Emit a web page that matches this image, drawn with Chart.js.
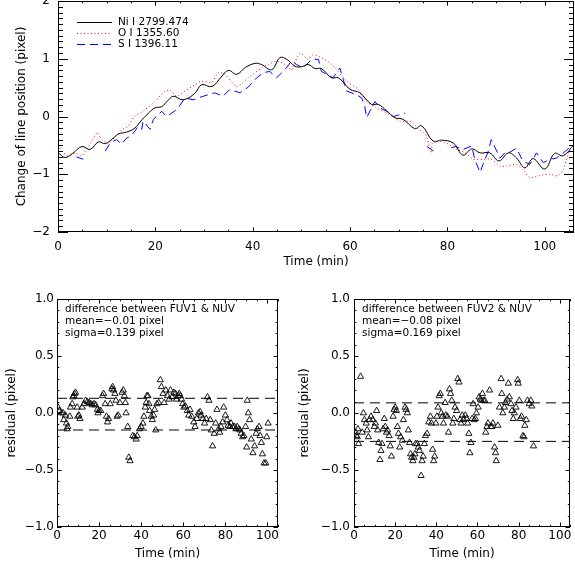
<!DOCTYPE html>
<html>
<head>
<meta charset="utf-8">
<script src="https://cdn.jsdelivr.net/npm/chart.js@4/dist/chart.umd.min.js"></script>
<style>
  html, body { margin: 0; padding: 0; background: #fff; }
  body { width: 575px; height: 568px; position: relative; overflow: hidden; }
  .panel { position: absolute; }
</style>
</head>
<body>
<div class="panel" style="left:0;top:0;width:575px;height:275px"><canvas id="topChart"></canvas></div>
<div class="panel" style="left:0;top:290px;width:290px;height:278px"><canvas id="leftChart"></canvas></div>
<div class="panel" style="left:290px;top:290px;width:285px;height:278px"><canvas id="rightChart"></canvas></div>
<script>
// ── Data ────────────────────────────────────────────────────────────────────
const TOP_X_TICKS = [0, 20, 40, 60, 80, 100];
const TOP_Y_TICKS = [-2, -1, 0, 1, 2];
const RES_X_TICKS = [0, 20, 40, 60, 80, 100];
const RES_Y_TICKS = [-1, -0.5, 0, 0.5, 1];

// Ni I 2799.474 (NUV)
const niTime = [0, 1.4, 3, 4.9, 6.6, 8.3, 9.7, 11.4, 12.5, 14.1, 15.8, 17, 18.5, 19.9, 21.3, 22.5, 23.7, 25.7, 28.1, 29.5,
  31.6, 33.5, 35, 36.7, 38.5, 40.5, 41.8, 43.9, 45.6, 47, 48.7, 50, 51.4, 52.8, 54.1, 56.2, 57.6, 60, 62, 64.4,
  65.8, 67.5, 69.2, 70.9, 73.3, 74.7, 77.1, 78.8, 81.2, 83.2, 85, 86.7, 88.7, 90.6, 92.5, 94.2, 95.9, 97.6, 100, 102,
  103.8, 106];
const niPos = [-0.62, -0.71, -0.64, -0.52, -0.57, -0.44, -0.47, -0.37, -0.30, -0.27, -0.20, -0.08, 0.05, 0.15, 0.17, 0.27, 0.35, 0.29, 0.40, 0.55,
  0.52, 0.68, 0.80, 0.73, 0.85, 0.92, 0.90, 0.81, 1.02, 0.99, 0.87, 0.86, 0.90, 0.83, 0.83, 0.67, 0.67, 0.47, 0.41, 0.21,
  0.21, 0.10, -0.02, -0.05, -0.21, -0.16, -0.43, -0.41, -0.46, -0.67, -0.56, -0.63, -0.63, -0.77, -0.63, -0.72, -0.89, -0.73, -0.91, -0.64,
  -0.68, -0.48];

// O I 1355.60 (FUV1)
const oTime = [0, 1, 2.1, 3.5, 4.9, 5.9, 6.9, 8.1, 9, 10.3, 12, 13.1, 14.4, 15.5, 17.9, 19.9, 22, 23, 24.4, 26.1,
  28.1, 29.5, 31.6, 32.9, 34.3, 36.7, 39.1, 41.8, 43.2, 44.9, 47.3, 47.9, 49.7, 51.4, 52.4, 54.8, 56.9, 59.3, 61.7, 63.4,
  65.4, 68.2, 70.2, 72.3, 73, 74, 75.5, 76.7, 77, 79.5, 81.9, 83.5, 85.3, 87.3, 89, 90.8, 92.2, 94.2, 95.5, 96.9,
  99, 101, 102.7, 103.8, 104.4, 105.1];
const oPos = [-0.50, -0.62, -0.69, -0.63, -0.68, -0.56, -0.43, -0.28, -0.40, -0.46, -0.33, -0.23, -0.17, -0.02, 0.12, 0.26, 0.44, 0.46, 0.35, 0.44,
  0.55, 0.61, 0.59, 0.76, 0.73, 0.52, 0.67, 0.84, 0.90, 0.96, 0.87, 0.80, 1.10, 0.99, 1.07, 0.99, 0.84, 0.61, 0.47, 0.26,
  0.15, 0.03, -0.08, -0.08, -0.11, -0.22, -0.30, -0.63, -0.43, -0.45, -0.57, -0.62, -0.74, -0.74, -0.74, -0.86, -0.86, -0.83, -0.92, -1.06,
  -1.02, -1.00, -1.03, -0.92, -0.77, -0.57];

// S I 1396.11 (FUV2), null = gap in the data
const sTime = [3.8, 5.2, 7, 9.7, 10.7, 12, 13.1, 14, 15.1, 16.5, 17.2, 17.5, 18.9, 19.6, 21.3, 22.3, 24.4, 26.1, 27.8, 29.8,
  32.2, 33.9, 35.3, 37.4, 39.1, 40.8, 42.2, 43.5, 44.9, 46.6, 48, 49, 50.4, 52.1, 53.5, 54.1, 55.2, 56.5, 57.9, 59.3,
  61.3, 62.4, 63, 63.4, 65.1, 66.1, 67.5, 68.9, 71.3, 73.5, 75.8, 77.2, 79, 80.8, 81.6, 83.2, 85, 85.6, 86.7, 87.3,
  88.4, 89, 90.8, 92.1, 92.8, 94.2, 95.5, 96.9, 98.3, 99.7, 101, 102.4, 103.8, 105.1];
const sPos = [-0.70, -0.74, null, -0.60, -0.46, -0.40, -0.48, -0.38, -0.33, -0.17, -0.22, -0.08, -0.22, -0.05, 0.09, 0.00, 0.12, 0.32, 0.29, 0.35,
  0.41, 0.35, 0.47, 0.41, 0.51, 0.67, 0.76, 0.78, 0.67, 0.81, 0.96, 0.90, 0.84, 0.99, 0.99, 0.78, 0.73, 0.67, 0.84, 0.44,
  0.38, 0.32, 0.18, -0.02, 0.26, 0.15, 0.09, 0.00, 0.06, null, -0.52, -0.60, null, -0.54, -0.52, -0.57, -0.51, -0.74, -0.97, -0.83,
  -0.60, -0.40, -0.72, -0.60, -0.62, -0.55, -0.77, -0.83, -0.63, -0.80, -0.74, -0.72, -0.63, -0.54];

// residual FUV1 - NUV
const fuv1Time = [0.5, 1.1, 2.1, 2.9, 4.0, 3.2, 4.5, 5.1, 4.8, 6.1,
  6.4, 7.2, 7.5, 8.3, 8.8, 8.0, 9.6, 10.4, 10.9, 9.9,
  12.0, 12.8, 13.6, 14.4, 15.2, 16.0, 16.8, 17.6, 18.4, 19.2,
  19.5, 20.0, 20.8, 21.6, 22.1, 22.9, 23.5, 24.0, 24.5, 25.3,
  26.1, 26.4, 26.9, 27.5, 28.0, 28.5, 29.1, 29.9, 30.9, 31.5,
  32.0, 32.5, 32.8, 33.6, 34.1, 34.7, 36.0, 36.8, 37.6, 38.1,
  39.2, 40.0, 40.8, 41.3, 41.9, 42.4, 42.7, 43.2, 43.7, 44.0,
  44.8, 45.3, 45.9, 46.4, 46.9, 47.5, 48.3, 49.1, 49.6, 50.4,
  50.9, 51.7, 52.5, 53.3, 53.9, 54.7, 55.5, 56.3, 56.8, 57.6,
  58.1, 58.6, 59.2, 59.7, 60.3, 61.0, 61.9, 62.6, 63.2, 64.0,
  65.0, 65.6, 66.4, 67.2, 68.0, 68.5, 69.3, 70.1, 70.9, 71.5,
  72.2, 72.8, 73.3, 73.9, 74.7, 75.4, 76.0, 76.8, 77.3, 77.9,
  78.7, 79.2, 80.0, 80.8, 81.3, 82.1, 82.7, 83.5, 84.3, 85.0,
  85.6, 86.4, 86.9, 87.5, 88.2, 88.8, 89.6, 90.1, 90.4, 90.9,
  91.5, 92.3, 93.1, 93.9, 94.6, 95.2, 96.0, 96.5, 97.1, 97.6,
  98.4, 99.2, 99.7, 100.3];
const fuv1Resid = [0.05, 0.02, 0.00, 0.00, -0.02, -0.06, -0.09, -0.12, -0.14, -0.03,
  0.05, 0.08, 0.14, 0.17, 0.18, 0.15, 0.05, -0.02, -0.05, -0.03,
  0.05, 0.08, 0.11, 0.10, 0.09, 0.08, 0.07, 0.08, 0.07, 0.03,
  0.00, 0.02, 0.02, 0.15, 0.17, 0.08, -0.03, -0.08, -0.05, 0.08,
  0.21, 0.23, 0.20, 0.17, 0.11, -0.03, -0.02, 0.09, 0.18, 0.20,
  0.15, 0.09, 0.00, -0.12, -0.39, -0.42, -0.20, -0.21, -0.23, -0.20,
  -0.14, -0.12, -0.09, -0.03, 0.05, 0.09, 0.15, 0.15, 0.08, 0.02,
  -0.03, -0.06, -0.02, 0.03, -0.15, 0.08, 0.09, 0.29, 0.23, 0.17,
  0.09, 0.20, 0.15, 0.12, 0.20, 0.14, 0.18, 0.17, 0.12, 0.15,
  0.17, 0.15, 0.12, 0.08, 0.05, 0.06, 0.02, -0.02, 0.03, -0.03,
  -0.08, -0.12, -0.05, 0.00, 0.01, -0.02, -0.05, -0.09, -0.05, 0.14,
  0.11, -0.06, -0.15, -0.29, -0.18, -0.09, 0.03, -0.14, -0.17, -0.12,
  -0.08, 0.05, -0.02, -0.06, -0.11, -0.12, -0.09, -0.12, -0.12, -0.14,
  -0.12, -0.14, -0.15, -0.18, -0.21, -0.20, -0.12, -0.30, 0.11, 0.00,
  -0.06, -0.23, -0.35, -0.29, -0.18, -0.14, -0.12, -0.20, -0.26, -0.36,
  -0.44, -0.44, -0.21, -0.09];

// residual FUV2 - NUV
const fuv2Time = [0.8, 1.1, 1.6, 2.2, 1.9, 3.2, 4.0, 4.6, 5.1, 5.9,
  6.4, 7.0, 7.5, 8.3, 9.1, 9.9, 10.4, 11.0, 11.5, 12.0,
  12.6, 13.1, 13.6, 14.2, 14.7, 15.2, 15.8, 16.3, 17.1, 17.6,
  18.2, 19.0, 19.5, 20.0, 20.6, 21.1, 21.6, 22.2, 22.7, 23.5,
  24.0, 24.8, 25.4, 25.9, 26.4, 27.0, 27.5, 28.0, 28.6, 29.1,
  29.6, 29.9, 30.7, 31.2, 31.8, 32.6, 33.1, 33.6, 34.2, 34.7,
  35.5, 36.3, 37.1, 37.6, 38.2, 38.7, 39.2, 39.8, 40.3, 40.8,
  41.4, 41.9, 42.4, 43.0, 43.5, 44.3, 44.6, 45.4, 45.9, 46.4,
  46.9, 47.5, 48.0, 48.5, 49.1, 49.9, 50.4, 51.0, 51.5, 52.0,
  52.6, 53.4, 54.1, 54.7, 55.2, 55.8, 56.3, 56.8, 57.4, 57.9,
  58.4, 59.0, 59.5, 60.3, 60.8, 61.3, 61.9, 62.4, 62.9, 63.5,
  64.0, 64.6, 65.1, 65.9, 66.4, 67.0, 67.5, 68.3, 68.8, 69.1,
  69.9, 70.7, 71.5, 71.8, 72.3, 73.1, 73.6, 74.4, 75.0, 75.5,
  76.3, 76.8, 77.4, 77.9, 78.7, 79.5, 79.8, 80.3, 80.8, 81.4,
  82.1, 82.6, 83.0, 83.7, 84.3, 85.1, 85.9, 86.4, 87.2];
const fuv2Resid = [-0.17, -0.20, -0.21, -0.27, -0.14, 0.32, -0.17, 0.00, -0.06, -0.09,
  -0.15, -0.21, -0.06, -0.03, -0.06, -0.12, -0.09, 0.02, -0.15, -0.26,
  -0.41, -0.33, -0.27, -0.14, -0.05, -0.12, -0.17, -0.15, -0.20, -0.29,
  -0.38, -0.03, 0.03, 0.05, 0.02, -0.12, -0.18, -0.30, -0.21, -0.24,
  -0.06, 0.05, 0.03, 0.00, -0.15, -0.26, -0.36, -0.39, -0.42, -0.39,
  -0.36, -0.27, -0.27, -0.30, -0.33, -0.55, -0.42, -0.38, -0.27, -0.20,
  -0.18, -0.08, -0.03, -0.09, -0.32, -0.42, -0.38, -0.09, -0.03, 0.05,
  0.15, 0.17, 0.00, -0.03, -0.09, 0.09, -0.02, -0.03, -0.17, 0.21,
  0.17, 0.11, -0.09, -0.05, 0.05, 0.02, 0.30, 0.27, -0.06, -0.09,
  -0.02, -0.06, -0.02, -0.05, -0.09, -0.18, -0.35, -0.26, -0.05, 0.08,
  -0.06, -0.05, 0.00, 0.05, 0.14, 0.12, 0.11, 0.17, 0.11, 0.11,
  -0.17, -0.12, -0.09, 0.20, -0.12, -0.12, -0.09, -0.30, -0.35, -0.42,
  -0.11, 0.05, 0.30, 0.17, 0.00, 0.05, 0.09, 0.12, 0.26, 0.14,
  0.08, 0.02, -0.05, 0.00, 0.05, 0.29, 0.26, 0.11, -0.05, -0.03,
  -0.20, -0.21, -0.11, -0.06, 0.11, 0.08, 0.11, 0.06, -0.29];

const FUV1_MEAN = -0.01, FUV1_SIGMA = 0.139;
const FUV2_MEAN = -0.08, FUV2_SIGMA = 0.169;

// ── Helpers ─────────────────────────────────────────────────────────────────
const FONT = '"DejaVu Sans", sans-serif';
const minusSign = s => String(s).replace('-', '\u2212');
const zip = (xs, ys) => xs.map((x, i) => ({ x, y: ys[i] }));

// IDL style box with inward major/minor ticks on all four sides
const idlFrame = {
  id: 'idlFrame',
  afterDraw(chart, args, o) {
    const { ctx, chartArea: a } = chart;
    const xs = chart.scales.x, ys = chart.scales.y;
    ctx.save();
    ctx.strokeStyle = '#000';
    ctx.lineWidth = 1;
    ctx.beginPath();
    const nx = Math.floor((xs.max - xs.min) / o.xMinor + 1e-6);
    for (let i = 0; i <= nx; i++) {
      const v = xs.min + i * o.xMinor;
      const major = Math.abs(v / o.xMajor - Math.round(v / o.xMajor)) < 1e-6;
      const len = major ? o.xLen : o.xLen / 2;
      const p = Math.round(xs.getPixelForValue(v)) + 0.5;
      ctx.moveTo(p, a.bottom); ctx.lineTo(p, a.bottom - len);
      ctx.moveTo(p, a.top); ctx.lineTo(p, a.top + len);
    }
    const ny = Math.floor((ys.max - ys.min) / o.yMinor + 1e-6);
    for (let i = 0; i <= ny; i++) {
      const v = ys.min + i * o.yMinor;
      const major = Math.abs(v / o.yMajor - Math.round(v / o.yMajor)) < 1e-6;
      const len = major ? o.yLen : o.yLen / 2;
      const p = Math.round(ys.getPixelForValue(v)) + 0.5;
      ctx.moveTo(a.left, p); ctx.lineTo(a.left + len, p);
      ctx.moveTo(a.right, p); ctx.lineTo(a.right - len, p);
    }
    ctx.stroke();
    ctx.strokeRect(Math.round(a.left) + 0.5, Math.round(a.top) + 0.5,
      Math.round(a.right - a.left) - 1, Math.round(a.bottom - a.top) - 1);
    ctx.restore();
  }
};

// text block in the upper left corner of the plot
const idlText = {
  id: 'idlText',
  afterDraw(chart, args, o) {
    if (!o.lines) return;
    const { ctx, chartArea: a } = chart;
    ctx.save();
    ctx.font = `10.5px ${FONT}`;
    ctx.fillStyle = '#000';
    ctx.textBaseline = 'middle';
    o.lines.forEach((t, i) => ctx.fillText(t, a.left + o.dx, a.top + o.dy + i * o.step));
    ctx.restore();
  }
};

// line-sample legend like IDL's legend.pro
const idlLegend = {
  id: 'idlLegend',
  afterDraw(chart, args, o) {
    if (!o.show) return;
    const { ctx, chartArea: a } = chart;
    ctx.save();
    ctx.font = `10.5px ${FONT}`;
    ctx.textBaseline = 'middle';
    chart.data.datasets.forEach((ds, i) => {
      const y = Math.round(a.top + o.top + i * o.rowH) + 0.5;
      const x0 = a.left + o.left;
      ctx.strokeStyle = ds.borderColor;
      ctx.lineWidth = 1;
      ctx.setLineDash(ds.borderDash || []);
      ctx.beginPath(); ctx.moveTo(x0, y); ctx.lineTo(x0 + o.len, y); ctx.stroke();
      ctx.setLineDash([]);
      ctx.fillStyle = '#000';
      ctx.fillText(ds.label, x0 + o.len + o.gap, y);
    });
    ctx.restore();
  }
};

function xAxis(max, tickList, tickPad, size, titlePad) {
  return {
    type: 'linear', min: 0, max,
    afterBuildTicks: s => { s.ticks = tickList.map(v => ({ value: v })); },
    afterFit: s => { s.height = size; s.paddingLeft = 0; s.paddingRight = 0; },
    grid: { display: false, drawTicks: false },
    border: { display: false },
    ticks: { padding: tickPad, color: '#000', font: { family: FONT, size: 12 }, maxRotation: 0, autoSkip: false,
      callback: v => minusSign(v) },
    title: { display: true, text: 'Time (min)', color: '#000', font: { family: FONT, size: 12 }, padding: { top: 0, bottom: titlePad } },
  };
}

function yAxis(min, max, tickList, fmt, tickPad, size, title, titlePad) {
  return {
    type: 'linear', min, max,
    afterBuildTicks: s => { s.ticks = tickList.map(v => ({ value: v })); },
    afterFit: s => { s.width = size; s.paddingTop = 0; s.paddingBottom = 0; },
    grid: { display: false, drawTicks: false },
    border: { display: false },
    ticks: { padding: tickPad, color: '#000', font: { family: FONT, size: 12 }, autoSkip: false,
      callback: v => minusSign(fmt(v)) },
    title: { display: true, text: title, color: '#000', font: { family: FONT, size: 12 }, padding: { top: titlePad, bottom: 0 } },
  };
}

// ── Top panel ───────────────────────────────────────────────────────────────
new Chart(document.getElementById('topChart'), {
  type: 'scatter',
  data: {
    datasets: [
      { label: 'Ni I 2799.474', data: zip(niTime, niPos), showLine: true, borderColor: '#000000', borderWidth: 1,
        pointRadius: 0, tension: 0.4, spanGaps: false },
      { label: 'O I 1355.60', data: zip(oTime, oPos), showLine: true, borderColor: '#ff0000', borderWidth: 1,
        borderDash: [1, 2.5], pointRadius: 0, tension: 0.2, spanGaps: false },
      { label: 'S I 1396.11', data: zip(sTime, sPos), showLine: true, borderColor: '#0000ff', borderWidth: 1,
        borderDash: [8, 5], pointRadius: 0, tension: 0, spanGaps: false },
    ],
  },
  options: {
    responsive: true, maintainAspectRatio: false, animation: false, events: [],
    layout: { padding: { left: 0, right: 1, top: 1, bottom: 0 } },
    scales: {
      x: xAxis(106, TOP_X_TICKS, 8, 43, 6),
      y: yAxis(-2, 2, TOP_Y_TICKS, v => String(v), 8, 58, 'Change of line position (pixel)', 15),
    },
    plugins: {
      legend: { display: false }, tooltip: { enabled: false },
      idlFrame: { xMajor: 20, xMinor: 5, xLen: 4.6, yMajor: 1, yMinor: 0.1, yLen: 10 },
      idlLegend: { show: true, left: 19, top: 21, rowH: 11, len: 35, gap: 6 },
    },
  },
  plugins: [idlFrame, idlLegend],
});

// ── Residual panels ─────────────────────────────────────────────────────────
function residualChart(id, times, resid, mean, sigma, lines, yWidth, tickPad, padRight, titlePad) {
  const triangles = {
    label: 'residual', data: zip(times, resid), showLine: false,
    pointStyle: 'triangle', pointRadius: 3.6, borderColor: '#000', borderWidth: 0.9,
    backgroundColor: 'rgba(0,0,0,0)',
  };
  const band = y => ({
    label: 'band', data: [{ x: 0, y }, { x: 105, y }], showLine: true, pointRadius: 0,
    borderColor: '#000', borderWidth: 1, borderDash: [10, 6],
  });
  new Chart(document.getElementById(id), {
    type: 'scatter',
    data: { datasets: [triangles, band(mean + sigma), band(mean - sigma)] },
    options: {
      responsive: true, maintainAspectRatio: false, animation: false, events: [],
      layout: { padding: { left: 0, right: padRight, top: 9, bottom: 0 } },
      scales: {
        x: xAxis(105, RES_X_TICKS, 2, 41, 7),
        y: yAxis(-1, 1, RES_Y_TICKS, v => v.toFixed(1), tickPad, yWidth, 'residual (pixel)', titlePad),
      },
      plugins: {
        legend: { display: false }, tooltip: { enabled: false },
        idlFrame: { xMajor: 20, xMinor: 5, xLen: 4.5, yMajor: 0.5, yMinor: 0.1, yLen: 4.5 },
        idlText: { lines, dx: 8, dy: 10, step: 12 },
      },
    },
    plugins: [idlFrame, idlText],
  });
}

residualChart('leftChart', fuv1Time, fuv1Resid, FUV1_MEAN, FUV1_SIGMA,
  ['difference between FUV1 & NUV', 'mean=\u22120.01 pixel', 'sigma=0.139 pixel'], 57, 3, 12, 5);
residualChart('rightChart', fuv2Time, fuv2Resid, FUV2_MEAN, FUV2_SIGMA,
  ['difference between FUV2 & NUV', 'mean=\u22120.08 pixel', 'sigma=0.169 pixel'], 64, 4, 2, 8);
</script>
</body>
</html>
